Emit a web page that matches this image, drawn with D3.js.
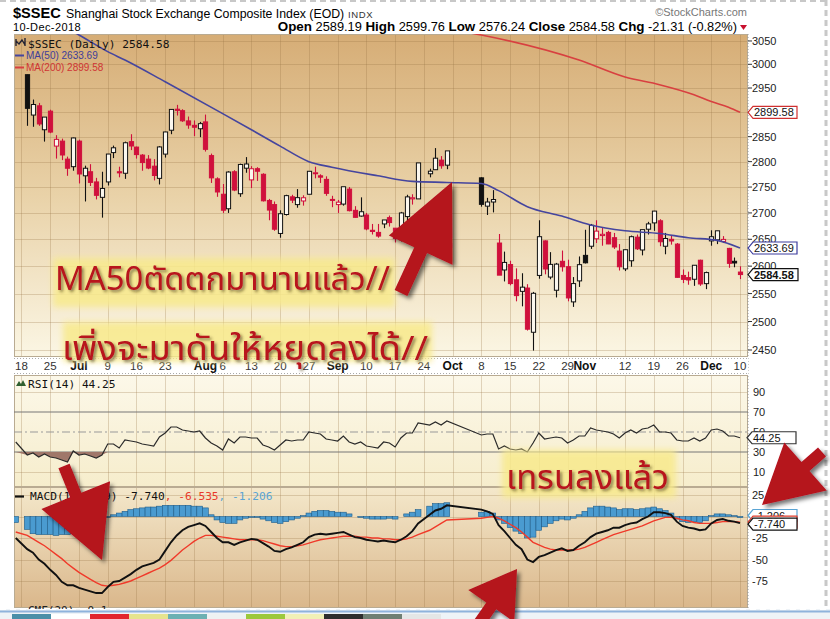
<!DOCTYPE html>
<html><head><meta charset="utf-8">
<script src="https://cdn.jsdelivr.net/npm/d3@7"></script>
<style>
body{margin:0;background:#fff;}
svg{display:block;font-family:Arial,"Liberation Sans",sans-serif;}
.mono{font-family:"DejaVu Sans Mono","Liberation Mono",monospace;}
.thai{font-family:"Noto Sans Thai","Noto Looped Thai","Loma","Garuda","Tahoma","Leelawadee UI","Noto Sans",sans-serif;}
</style></head><body>
<svg id="c" width="830" height="619"></svg>
<script>
// ---------------- DATA ----------------
const tradeDates = [
"2018-06-15","2018-06-19","2018-06-20","2018-06-21","2018-06-22","2018-06-25","2018-06-26","2018-06-27","2018-06-28","2018-06-29",
"2018-07-02","2018-07-03","2018-07-04","2018-07-05","2018-07-06","2018-07-09","2018-07-10","2018-07-11","2018-07-12","2018-07-13","2018-07-16","2018-07-17","2018-07-18","2018-07-19","2018-07-20","2018-07-23","2018-07-24","2018-07-25","2018-07-26","2018-07-27","2018-07-30","2018-07-31",
"2018-08-01","2018-08-02","2018-08-03","2018-08-06","2018-08-07","2018-08-08","2018-08-09","2018-08-10","2018-08-13","2018-08-14","2018-08-15","2018-08-16","2018-08-17","2018-08-20","2018-08-21","2018-08-22","2018-08-23","2018-08-24","2018-08-27","2018-08-28","2018-08-29","2018-08-30","2018-08-31",
"2018-09-03","2018-09-04","2018-09-05","2018-09-06","2018-09-07","2018-09-10","2018-09-11","2018-09-12","2018-09-13","2018-09-14","2018-09-17","2018-09-18","2018-09-19","2018-09-20","2018-09-21","2018-09-25","2018-09-26","2018-09-27","2018-09-28",
"2018-10-08","2018-10-09","2018-10-10","2018-10-11","2018-10-12","2018-10-15","2018-10-16","2018-10-17","2018-10-18","2018-10-19","2018-10-22","2018-10-23","2018-10-24","2018-10-25","2018-10-26","2018-10-29","2018-10-30","2018-10-31",
"2018-11-01","2018-11-02","2018-11-05","2018-11-06","2018-11-07","2018-11-08","2018-11-09","2018-11-12","2018-11-13","2018-11-14","2018-11-15","2018-11-16","2018-11-19","2018-11-20","2018-11-21","2018-11-22","2018-11-23","2018-11-26","2018-11-27","2018-11-28","2018-11-29","2018-11-30",
"2018-12-03","2018-12-04","2018-12-05","2018-12-06","2018-12-07","2018-12-10"];

const open = [null,2978,2894,2913,2864,2902,2831,2841,2805,2790,
 2841,2772,2780,2760,2730,2760,2818,2780,2777,2840,2829,2813,2805,2791,2767,2815,2863,2906,2903,2882,2873,2866,
 2880,2812,2766,2736,2708,2780,2737,2787,2764,2786,2775,2724,2716,2661,2697,2731,2716,2723,2736,2777,2772,2765,2726,
 2716,2717,2746,2705,2694,2696,2667,2663,2679,2691,2671,2649,2693,2727,2727,2776,2784,2803,2793,
 2768,2713,2721,2643,2593,2603,2575,2554,2560,2481,2583,2647,2580,2556,2609,2599,2535,2573,
 2620,2637,2651,2657,2663,2653,2628,2595,2610,2654,2630,2669,2681,2685,2637,2650,2641,2583,2579,2576,2611,2568,
 2647,2649,2646,2633,2609,2589.19];
const high = [null,2978,2926,2919,2890,2905,2853,2846,2810,2848,
 2844,2792,2795,2768,2780,2815,2832,2790,2840,2855,2830,2815,2813,2805,2831,2860,2906,2915,2906,2891,2883,2880,
 2895,2816,2769,2756,2781,2783,2796,2809,2791,2789,2777,2727,2722,2705,2735,2735,2746,2734,2781,2790,2775,2771,2733,
 2725,2750,2750,2713,2730,2700,2679,2679,2686,2695,2671,2702,2735,2736,2797,2786,2827,2811,2821,
 2769,2729,2744,2660,2627,2610,2596,2587,2567,2553,2686,2648,2626,2606,2629,2612,2580,2618,
 2668,2679,2686,2673,2666,2662,2641,2631,2657,2659,2668,2683,2704,2688,2662,2657,2643,2594,2590,2602,2612,2590,
 2667,2666,2656,2634,2616,2599.76];
const low = [null,2872,2870,2872,2840,2857,2806,2803,2772,2782,
 2757,2722,2752,2726,2691,2753,2807,2769,2766,2823,2806,2782,2785,2763,2755,2808,2855,2893,2880,2866,2851,2849,
 2820,2758,2731,2700,2700,2742,2731,2778,2748,2762,2722,2686,2666,2653,2695,2719,2710,2714,2736,2767,2758,2733,2711,
 2700,2714,2703,2691,2693,2667,2659,2653,2671,2674,2644,2646,2681,2716,2727,2769,2784,2786,2785,
 2712,2696,2701,2584,2572,2565,2536,2527,2484,2449,2577,2585,2576,2543,2590,2536,2526,2562,
 2605,2632,2643,2638,2641,2632,2592,2591,2599,2630,2620,2659,2666,2637,2622,2640,2579,2569,2566,2564,2564,2558,
 2638,2641,2643,2597,2598,2576.24];
const close = [3021.9,2907.8,2915.7,2875.8,2889.8,2859.3,2844.5,2813.2,2786.9,2847.4,
 2775.6,2786.9,2759.1,2733.9,2747.2,2815.1,2827.6,2777.8,2837.7,2831.2,2814.0,2798.1,2787.3,2772.6,2829.3,2859.5,2905.6,2903.6,2882.2,2873.6,2869.1,2876.4,
 2824.5,2768.0,2740.4,2705.2,2779.4,2744.1,2794.4,2795.3,2785.9,2781.0,2723.3,2705.5,2669.0,2698.5,2733.3,2724.6,2729.4,2729.2,2780.9,2778.0,2769.3,2737.7,2725.3,
 2720.7,2750.6,2704.3,2691.6,2702.3,2669.5,2664.8,2656.1,2686.6,2681.6,2651.8,2700.0,2730.9,2729.2,2797.5,2781.1,2806.8,2791.8,2821.4,
 2716.5,2721.0,2725.8,2583.5,2606.9,2568.1,2546.3,2561.6,2486.4,2550.5,2654.9,2594.8,2603.3,2603.8,2598.9,2542.1,2568.1,2602.8,
 2606.2,2676.5,2665.4,2659.4,2641.3,2635.6,2598.9,2630.5,2654.9,2632.2,2668.2,2679.1,2703.5,2645.4,2651.5,2646.8,2579.5,2575.8,2574.7,2601.7,2567.4,2588.2,
 2654.8,2666.0,2649.8,2605.2,2605.9,2584.58];

const ma50Dates = ["2018-06-19","2018-07-02","2018-07-09","2018-07-12","2018-07-23","2018-08-06","2018-08-13","2018-08-20","2018-08-27","2018-08-31","2018-09-12","2018-09-20","2018-09-28","2018-10-08","2018-10-11","2018-10-18","2018-10-26","2018-11-02","2018-11-12","2018-11-20","2018-11-27","2018-12-04","2018-12-10"];
const ma50Values = [3120,3063,3027,3009,2963,2897,2864,2831,2800,2789,2772,2761,2759,2757,2743,2712,2694,2677,2666,2661,2653,2648,2633.69];
const ma200Dates = ["2018-09-21","2018-10-08","2018-10-31","2018-11-12","2018-11-20","2018-11-28","2018-12-03","2018-12-06","2018-12-10"];
const ma200Values = [3085,3063,3009,2973,2957,2936,2922,2910,2899.58];

const rsi = [40,27,29,25,28,25,24,22,20,31,
 27,28,26,24,27,38,38,34,42,41,40,38,37,36,45,49,55,55,52,51,50,51,
 44,39,36,32,43,39,45,45,44,44,37,35,32,37,42,41,42,42,50,49,48,43,42,
 41,46,40,38,40,36,35,34,40,39,35,44,49,49,59,57,60,57,61,
 47,48,48,33,36,33,32,33,30,39,49,43,44,45,44,39,42,46,
 46,54,52,51,50,48,44,49,52,49,53,54,57,50,50,49,42,41,41,44,41,44,
 52,53,51,46,46,44.25];
const macd = [-25,-38,-42,-50,-55,-62,-68,-76,-80,-80,
 -83,-85,-87,-89,-89,-82,-76,-75,-71,-67,-62,-58,-56,-54,-50,-40,-30,-22,-16,-12,-10,-8,
 -11,-18,-25,-30,-30,-33,-30,-28,-26,-27,-31,-35,-40,-41,-38,-36,-33,-30,-24,-21,-20,-21,-20,
 -19,-18,-21,-24,-25,-27,-28,-29,-28,-29,-30,-27,-23,-17,-8,2,7,9,13,
 8,6,3,-10,-17,-25,-33,-38,-50,-53,-47,-45,-42,-39,-37,-40,-39,-34,
 -30,-24,-20,-18,-16,-13,-13,-10,-8,-7,-3,0,5,5,4,2,-6,-11,-13,-14,-16,-15,
 -8,-4,-3,-5,-6,-7.74];
const signal = [-18,-22,-26,-30,-34,-39,-44,-49,-55,-60,
 -65,-69,-73,-77,-80,-81,-80,-79,-77,-75,-72,-69,-66,-63,-60,-56,-51,-45,-39,-34,-29,-25,
 -22,-22,-23,-24,-25,-26,-27,-27,-27,-27,-28,-30,-32,-34,-35,-35,-34,-33,-31,-29,-27,-26,-25,
 -24,-23,-23,-23,-24,-24,-25,-25,-26,-26,-27,-27,-26,-24,-21,-16,-12,-8,-4,
 -2,-1,0,-2,-5,-9,-13,-18,-24,-30,-33,-36,-38,-39,-39,-39,-39,-38,
 -36,-33,-30,-27,-24,-21,-19,-17,-15,-13,-11,-8,-5,-3,-1,-1,-2,-4,-5,-7,-8,-8,
 -8,-7,-6,-6,-6,-6.535];
const hist = [-7,-15,-20,-21,-21,-21,-22,-21,-21,-20,
 -18,-16,-14,-12,-9,-1,2,4,6,8,9,10,11,11,12,13,13,13,13,13,12,12,
 10,2,-4,-7,-8,-8,-4,-2,-1,-1,-3,-5,-7,-8,-6,-4,-2,1,4,6,7,7,6,
 5,5,3,0,-1,-2,-3,-3,-3,-2,-3,0,3,5,8,12,15,15,16,
 5,6,4,-4,-8,-13,-17,-20,-25,-24,-16,-12,-8,-5,-3,-4,-2,2,
 6,10,12,12,11,10,8,9,9,8,9,10,11,9,7,4,-3,-6,-7,-6,-7,-5,
 1,3,3,2,1,-1.206];

const priceTicks = [2450,2500,2550,2600,2650,2700,2750,2800,2850,2900,2950,3000,3050];
const rsiTicks = [10,30,50,70,90];
const macdTicks = [25,0,-25,-50,-75];
const tickDates = ["2018-06-18","2018-06-25","2018-07-02","2018-07-09","2018-07-16","2018-07-23","2018-08-01","2018-08-06","2018-08-13","2018-08-20","2018-08-27","2018-09-03","2018-09-10","2018-09-17","2018-09-24","2018-10-01","2018-10-08","2018-10-15","2018-10-22","2018-10-29","2018-11-01","2018-11-12","2018-11-19","2018-11-26","2018-12-03","2018-12-10"];
const tickLabels = ["18","25","Jul","9","16","23","Aug","6","13","20","27","Sep","10","17","24","Oct","8","15","22","29","Nov","12","19","26","Dec","10"];

// ---------------- LAYOUT ----------------
const svg = d3.select("#c");
const L = 14, R = 748;
const mainT = 34, mainB = 357, axT = 358, axB = 374, rsiT = 375, rsiB = 487, macdT = 487, macdB = 608;
const fmt = d3.timeFormat("%Y-%m-%d");
const slots = d3.timeDay.range(new Date(2018,5,15), new Date(2018,11,11)).filter(d => d.getDay()%6 !== 0).map(fmt);
const x = d3.scalePoint().domain(slots).range([15.75, 740]);
const step = x.step();
const y = d3.scaleLog().domain([3000, 2450]).range([64.3, 350]);
const yr = d3.scaleLinear().domain([0, 100]).range([482, 382]);
const ym = d3.scaleLinear().domain([0, 25]).range([516.5, 495]);

const defs = svg.append("defs");
function grad(id, stops){
  const g = defs.append("linearGradient").attr("id", id).attr("x1",0).attr("x2",0).attr("y1",0).attr("y2",1);
  stops.forEach(s => g.append("stop").attr("offset", s[0]).attr("stop-color", s[1]));
}
grad("gMain", [[0,"#d6ad76"],[0.5,"#e9d2a8"],[1,"#fbf6e4"]]);
grad("gRsi", [[0,"#fcf8e9"],[1,"#f6edcc"]]);
grad("gMacd", [[0,"#f4e8cb"],[1,"#dab78b"]]);
function clip(id, y0, y1){ defs.append("clipPath").attr("id", id).append("rect").attr("x", L).attr("y", y0).attr("width", R-L).attr("height", y1-y0); }
clip("cMain", mainT, mainB); clip("cRsi", rsiT, rsiB); clip("cMacd", macdT, macdB);
const sh = defs.append("filter").attr("id","shadow").attr("x","-20%").attr("y","-20%").attr("width","150%").attr("height","150%");
sh.append("feDropShadow").attr("dx",3).attr("dy",3).attr("stdDeviation",2.2).attr("flood-color","#000").attr("flood-opacity",0.55);
const tsh = defs.append("filter").attr("id","tshadow").attr("x","-10%").attr("y","-30%").attr("width","130%").attr("height","170%");
tsh.append("feDropShadow").attr("dx",2).attr("dy",2).attr("stdDeviation",1.6).attr("flood-color","#3a2a10").attr("flood-opacity",0.6);
const blur = defs.append("filter").attr("id","blur").attr("x","-10%").attr("y","-30%").attr("width","120%").attr("height","160%");
blur.append("feGaussianBlur").attr("stdDeviation",3);

// page decorations (screenshot frame)
svg.append("line").attr("x1",0).attr("x2",830).attr("y1",1).attr("y2",1).attr("stroke","#c8c8c8").attr("stroke-width",2).attr("stroke-dasharray","6,4");
svg.append("line").attr("x1",826).attr("x2",826).attr("y1",0).attr("y2",610).attr("stroke","#c8c8c8").attr("stroke-width",3).attr("stroke-dasharray","6,4");

// header
svg.append("text").attr("x",13).attr("y",18).attr("font-size",14.6).attr("font-weight","bold").text("$SSEC");
svg.append("text").attr("x",66).attr("y",18).attr("font-size",12.3).text("Shanghai Stock Exchange Composite Index (EOD)");
svg.append("text").attr("x",348).attr("y",18).attr("font-size",9.5).attr("letter-spacing",0.6).attr("fill","#333").text("INDX");
svg.append("text").attr("x",13).attr("y",31).attr("font-size",11).attr("letter-spacing",0.4).text("10-Dec-2018");
svg.append("text").attr("x",747).attr("y",16).attr("font-size",11).attr("fill","#777").attr("text-anchor","end").text("\u00A9StockCharts.com");
const hdr = svg.append("text").attr("x",737).attr("y",31).attr("font-size",12.8).attr("text-anchor","end");
[["Open",1],[" 2589.19 ",0],["High",1],[" 2599.76 ",0],["Low",1],[" 2576.24 ",0],["Close",1],[" 2584.58 ",0],["Chg",1],[" -21.31 (-0.82%)",0]].forEach(p=>{
  hdr.append("tspan").attr("font-weight", p[1] ? "bold" : "normal").attr("font-size", p[1]?13.4:12.8).text(p[0]);
});
svg.append("path").attr("d","M740,25 L747,25 L743.5,30 Z").attr("fill","#c8102e");

// panel backgrounds
svg.append("rect").attr("x",L).attr("y",mainT).attr("width",R-L).attr("height",mainB-mainT).attr("fill","url(#gMain)");
svg.append("rect").attr("x",L).attr("y",rsiT).attr("width",R-L).attr("height",rsiB-rsiT).attr("fill","url(#gRsi)");
svg.append("rect").attr("x",L).attr("y",macdT).attr("width",R-L).attr("height",macdB-macdT).attr("fill","url(#gMacd)");

// vertical weekly grid
const mondays = slots.filter(s => new Date(s+"T00:00").getDay() === 1);
const gridC = "rgba(150,115,70,0.28)";
[[mainT,mainB],[rsiT,rsiB],[macdT,macdB]].forEach(([a,b])=>{
  svg.append("g").selectAll("line").data(mondays).join("line")
    .attr("x1",d=>Math.round(x(d))+0.5).attr("x2",d=>Math.round(x(d))+0.5).attr("y1",a).attr("y2",b)
    .attr("stroke",gridC).attr("stroke-width",1);
});
// horizontal grids
svg.append("g").selectAll("line").data(priceTicks).join("line")
  .attr("x1",L).attr("x2",R).attr("y1",d=>Math.round(y(d))+0.5).attr("y2",d=>Math.round(y(d))+0.5).attr("stroke",gridC);
svg.append("g").selectAll("line").data([10,90]).join("line")
  .attr("x1",L).attr("x2",R).attr("y1",d=>yr(d)+0.5).attr("y2",d=>yr(d)+0.5).attr("stroke",gridC);
svg.append("g").selectAll("line").data(macdTicks).join("line")
  .attr("x1",L).attr("x2",R).attr("y1",d=>Math.round(ym(d))+0.5).attr("y2",d=>Math.round(ym(d))+0.5).attr("stroke",gridC);

// panel borders
[[mainT,mainB],[rsiT,rsiB],[macdT,macdB]].forEach(([a,b])=>{
  svg.append("rect").attr("x",L+0.5).attr("y",a+0.5).attr("width",R-L-1).attr("height",b-a-1).attr("fill","none").attr("stroke","#b9ab92").attr("stroke-width",1);
});
svg.append("line").attr("x1",R).attr("x2",R).attr("y1",mainT).attr("y2",macdB).attr("stroke","#999").attr("stroke-dasharray","1,2");

// date axis row
svg.append("rect").attr("x",L).attr("y",axT).attr("width",R-L).attr("height",axB-axT).attr("fill","#fff");
svg.append("line").attr("x1",L).attr("x2",R).attr("y1",axT+0.5).attr("y2",axT+0.5).attr("stroke","#aaa").attr("stroke-dasharray","1,2");
svg.append("line").attr("x1",L).attr("x2",R).attr("y1",axB-0.5).attr("y2",axB-0.5).attr("stroke","#aaa").attr("stroke-dasharray","1,2");
const isMonth = t => /[A-Za-z]/.test(t);
svg.append("g").selectAll("text").data(tickDates).join("text")
  .attr("x",(d,i)=>x(d)).attr("y",370).attr("text-anchor","middle")
  .attr("font-size",(d,i)=>isMonth(tickLabels[i])?12:11.5)
  .attr("font-weight",(d,i)=>isMonth(tickLabels[i])?"bold":"normal")
  .attr("fill",(d,i)=>isMonth(tickLabels[i])?"#111":"#333")
  .text((d,i)=>tickLabels[i]);

// ---------------- PRICE PANEL ----------------
const gMain = svg.append("g").attr("clip-path","url(#cMain)");
const slotIdx = new Map(slots.map((s,i)=>[s,i]));
const bars = tradeDates.map((d,i)=>({d,o:open[i],h:high[i],l:low[i],c:close[i],
  prev: (i>0 && slotIdx.get(tradeDates[i-1]) === slotIdx.get(d)-1) ? close[i-1] : null})).filter(b=>b.o!=null);
const RED = "#d0103c";
bars.forEach(b=>{
  b.col = (b.prev==null || b.c >= b.prev) ? "#111" : RED;
  b.filled = b.c < b.o;
});
const bw = 4.2;
gMain.append("g").selectAll("line").data(bars).join("line")
  .attr("x1",b=>Math.round(x(b.d))+0.5).attr("x2",b=>Math.round(x(b.d))+0.5)
  .attr("y1",b=>y(b.h)).attr("y2",b=>y(b.l)).attr("stroke",b=>b.col).attr("stroke-width",1.1);
gMain.append("g").selectAll("rect").data(bars).join("rect")
  .attr("x",b=>Math.round(x(b.d))+0.5-bw/2).attr("width",bw)
  .attr("y",b=>y(Math.max(b.o,b.c))).attr("height",b=>Math.max(1,Math.abs(y(b.o)-y(b.c))))
  .attr("fill",b=>b.filled? b.col : "#fbf7ee").attr("stroke",b=>b.col).attr("stroke-width",1);

const lineP = (xs, ys, yscale) => d3.line().x((d,i)=>x(xs[i])).y((d,i)=>yscale(ys[i])).curve(d3.curveMonotoneX)(ys);
gMain.append("path").attr("d",lineP(ma50Dates,ma50Values,y)).attr("fill","none").attr("stroke","#45459e").attr("stroke-width",1.6);
gMain.append("path").attr("d",lineP(ma200Dates,ma200Values,y)).attr("fill","none").attr("stroke","#d84040").attr("stroke-width",1.6);

// price axis labels
svg.append("g").selectAll("line").data(priceTicks).join("line")
  .attr("x1",R).attr("x2",R+4).attr("y1",d=>y(d)).attr("y2",d=>y(d)).attr("stroke","#333");
svg.append("g").selectAll("text").data(priceTicks).join("text")
  .attr("x",R+4).attr("y",d=>y(d)+4).attr("font-size",11).attr("fill","#222").text(d=>d);

// legend
svg.append("path").attr("d","M16,46 L16,39 M16,41 L19,44 L22,40 L25,45 M25,38 L25,46").attr("stroke","#223").attr("stroke-width",1.4).attr("fill","none");
svg.append("text").attr("class","mono").attr("x",28).attr("y",48).attr("font-size",11.2).attr("fill","#111").text("$SSEC (Daily) 2584.58");
svg.append("line").attr("x1",15).attr("x2",24).attr("y1",55.5).attr("y2",55.5).attr("stroke","#45459e").attr("stroke-width",2);
svg.append("text").attr("x",26).attr("y",59).attr("font-size",10).attr("fill","#3d3d9a").text("MA(50) 2633.69");
svg.append("line").attr("x1",15).attr("x2",24).attr("y1",67.5).attr("y2",67.5).attr("stroke","#d84040").attr("stroke-width",2);
svg.append("text").attr("x",26).attr("y",71).attr("font-size",10).attr("fill","#d03434").text("MA(200) 2899.58");

// value boxes
function vbox(yc, txt, stroke, bold, xx){
  xx = xx || R;
  const w = bold ? 50 : 49;
  svg.append("path").attr("d",`M${xx},${yc} L${xx+5},${yc-6} L${xx+w},${yc-6} L${xx+w},${yc+6} L${xx+5},${yc+6} Z`)
    .attr("fill","#fff").attr("stroke",stroke).attr("stroke-width",1.2);
  svg.append("text").attr("x",xx+6).attr("y",yc+4).attr("font-size",11).attr("font-weight",bold?"bold":"normal").attr("fill","#111").text(txt);
}
vbox(y(2899.58),"2899.58","#d03030",false);
vbox(y(2633.69),"2633.69","#3d3d9e",false);
vbox(y(2584.58),"2584.58","#111",true);

// ---------------- RSI PANEL ----------------
const gR = svg.append("g").attr("clip-path","url(#cRsi)");
gR.append("line").attr("x1",L).attr("x2",R).attr("y1",yr(70)).attr("y2",yr(70)).attr("stroke","#777").attr("stroke-width",1);
gR.append("line").attr("x1",L).attr("x2",R).attr("y1",yr(30)).attr("y2",yr(30)).attr("stroke","#777").attr("stroke-width",1);
gR.append("line").attr("x1",L).attr("x2",R).attr("y1",yr(50)).attr("y2",yr(50)).attr("stroke","#999").attr("stroke-width",1).attr("stroke-dasharray","8,3,2,3");
gR.append("path").attr("d", d3.area().x((d,i)=>x(tradeDates[i])).y0(yr(30)).y1(d=>yr(Math.min(d,30)))(rsi))
  .attr("fill","#a0776a");
gR.append("path").attr("d", d3.line().x((d,i)=>x(tradeDates[i])).y(d=>yr(d))(rsi))
  .attr("fill","none").attr("stroke","#2a2a2a").attr("stroke-width",1.2);
svg.append("g").selectAll("text").data(rsiTicks).join("text")
  .attr("x",R+5).attr("y",d=>yr(d)+4).attr("font-size",11).attr("fill","#222").text(d=>d);
svg.append("path").attr("d","M16,386 L19,381 L21,384 L23,380 L26,386 Z").attr("fill","#2f5f2f");
svg.append("text").attr("class","mono").attr("x",28).attr("y",388).attr("font-size",11.2).attr("fill","#111").text("RSI(14) 44.25");
vbox(yr(44.25),"44.25","#333",false,R-1);

// ---------------- MACD PANEL ----------------
const gM = svg.append("g").attr("clip-path","url(#cMacd)");
gM.append("g").selectAll("rect").data(hist).join("rect")
  .attr("x",(d,i)=>x(tradeDates[i])-step/2).attr("width",step)
  .attr("y",d=>Math.min(ym(d),ym(0))).attr("height",d=>Math.abs(ym(d)-ym(0)))
  .attr("fill","#4a9bd0").attr("stroke","#1f5d8a").attr("stroke-width",0.6);
gM.append("path").attr("d", d3.line().x((d,i)=>x(tradeDates[i])).y(d=>ym(d))(signal))
  .attr("fill","none").attr("stroke","#f03a2a").attr("stroke-width",1.4);
gM.append("path").attr("d", d3.line().x((d,i)=>x(tradeDates[i])).y(d=>ym(d))(macd))
  .attr("fill","none").attr("stroke","#111").attr("stroke-width",1.9);
svg.append("g").selectAll("text").data(macdTicks.filter(d=>d!==0)).join("text")
  .attr("x",R+4).attr("y",d=>ym(d)+4).attr("font-size",11).attr("fill","#222").text(d=>d);
svg.append("line").attr("x1",15).attr("x2",24).attr("y1",496.5).attr("y2",496.5).attr("stroke","#111").attr("stroke-width",2.2);
const ml = svg.append("text").attr("class","mono").attr("x",30).attr("y",500).attr("font-size",11.2);
ml.append("tspan").attr("fill","#111").text("MACD(12,26,9) -7.740");
ml.append("tspan").attr("fill","#e83a2a").text(", -6.535");
ml.append("tspan").attr("fill","#5aa4d4").text(", -1.206");
vbox(ym(0)-1,"-1.206","#5aa4d4",false,R);
vbox(ym(-6.535),"-6.535","#e03a2a",false,R);
vbox(ym(-7.74)+1,"-7.740","#111",false,R);

// CMF partial label + bottom strip
svg.append("text").attr("class","mono").attr("x",28).attr("y",614).attr("font-size",11).attr("fill","#222").text("CMF(20) -0.1");
svg.append("rect").attr("x",0).attr("y",609).attr("width",830).attr("height",10).attr("fill","#eef3f7");
svg.append("line").attr("x1",0).attr("x2",830).attr("y1",609.5).attr("y2",609.5).attr("stroke","#fff").attr("stroke-dasharray","6,4");
svg.append("rect").attr("x",0).attr("y",610.5).attr("width",830).attr("height",2).attr("fill","#8fb3dc");
const sw = ["#4a8fa8","#ffffff","#e2262e","#e6e48e","#6cb0b2","#eef2f2","#9cc83c","#f1f0b6","#2e2e2e","#6f7f73","#e4e6e6"];
svg.append("g").selectAll("rect").data(sw).join("rect").attr("x",(d,i)=>12+i*39).attr("y",614).attr("width",39).attr("height",5).attr("fill",d=>d);

// ---------------- ANNOTATIONS ----------------
function hl(x0,y0,w,h){ svg.append("rect").attr("x",x0).attr("y",y0).attr("width",w).attr("height",h).attr("fill","#f8ea8c").attr("opacity",0.85).attr("filter","url(#blur)"); }
hl(53,258,342,49);
hl(63,322,369,40);
hl(502,450,174,48);
function note(x0,y0,txt,fs,w){
  svg.append("text").attr("class","thai").attr("x",x0).attr("y",y0).attr("font-size",fs).attr("fill","#b8121f")
    .attr("textLength",w).attr("lengthAdjust","spacingAndGlyphs").attr("filter","url(#tshadow)").text(txt);
}
note(55,290,"MA50ตัดตกมานานแล้ว//",32,335);
note(62,360,"เพิ่งจะมาดันให้หยุดลงได้//",33,366);
note(506,489,"เทรนลงแล้ว",34,163);

function arrow(tail, tip, headL, headHW, shaftHW){
  const dx=tip[0]-tail[0], dy=tip[1]-tail[1], len=Math.hypot(dx,dy), ux=dx/len, uy=dy/len, px=-uy, py=ux;
  const bx=tip[0]-ux*headL, by=tip[1]-uy*headL;
  const pts=[[tail[0]+px*shaftHW,tail[1]+py*shaftHW],[bx+px*shaftHW,by+py*shaftHW],[bx+px*headHW,by+py*headHW],tip,
    [bx-px*headHW,by-py*headHW],[bx-px*shaftHW,by-py*shaftHW],[tail[0]-px*shaftHW,tail[1]-py*shaftHW]];
  svg.append("path").attr("d","M"+pts.map(p=>p.join(",")).join("L")+"Z").attr("fill","#b5121e").attr("filter","url(#shadow)");
}
arrow([401,293],[452,182],75,35,7);
arrow([64,466],[102,560],70,37,6);
arrow([478,625],[517,569],45,28,6);
arrow([822,452],[762,505],58,32,6);
</script>
</body></html>
